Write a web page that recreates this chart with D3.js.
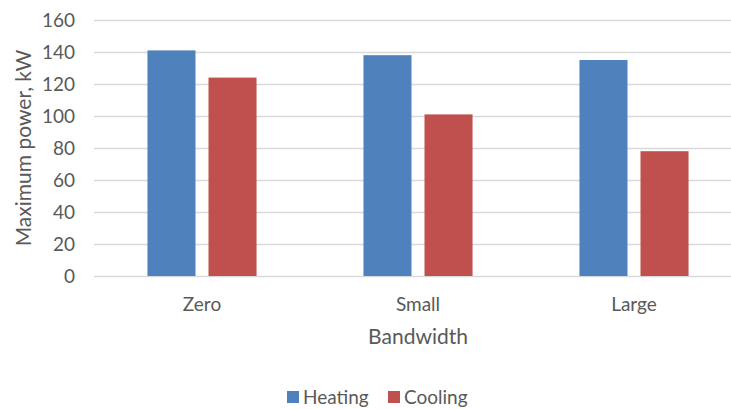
<!DOCTYPE html>
<html>
<head>
<meta charset="utf-8">
<script src="https://cdn.jsdelivr.net/npm/d3@7"></script>
<style>
  html, body { margin: 0; padding: 0; background: #fff; }
  svg { display: block; font-family: Lato, "Open Sans", sans-serif; }
</style>
</head>
<body>
<svg id="chart" width="731" height="409"></svg>
<script>
// Maximum power by bandwidth setting
const categories = ["Zero", "Small", "Large"];
const seriesNames = ["Heating", "Cooling"];
const heating = [141, 138, 135];
const cooling = [124, 101, 78];
const yTicks = [0, 20, 40, 60, 80, 100, 120, 140, 160];

const colors = { Heating: "#4F81BD", Cooling: "#C0504D" };
const textColor = "#595959";

const svg = d3.select("#chart");
const plot = { left: 94, right: 742, top: 20, bottom: 276 };

const y = d3.scaleLinear().domain([0, 160]).range([plot.bottom, plot.top]);

const x0 = d3.scaleBand()
  .domain(categories)
  .range([plot.left, plot.right])
  .paddingInner(0.495)
  .paddingOuter(0.2475);

const x1 = d3.scaleBand()
  .domain(seriesNames)
  .range([0, x0.bandwidth()])
  .paddingInner(0.213)
  .paddingOuter(0);

// Horizontal gridlines
svg.append("g")
  .selectAll("line")
  .data(yTicks)
  .join("line")
  .attr("x1", plot.left)
  .attr("x2", plot.right)
  .attr("y1", d => Math.round(y(d)) + 0.5)
  .attr("y2", d => Math.round(y(d)) + 0.5)
  .attr("stroke", "#D9D9D9")
  .attr("stroke-width", 1.3);

// Y axis tick labels
const yAxis = d3.axisLeft(y).tickValues(yTicks).tickSize(0).tickPadding(0);
const gy = svg.append("g")
  .attr("transform", `translate(75,0)`)
  .call(yAxis);
gy.select(".domain").remove();
gy.selectAll("text")
  .attr("fill", textColor)
  .attr("font-size", 19)
  .attr("dy", "0.36em")
  .attr("font-family", "Lato, sans-serif");

// Bars
const rows = categories.map((c, i) => ({ cat: c, values: [
  { key: "Heating", value: heating[i] },
  { key: "Cooling", value: cooling[i] }
]}));

svg.append("g")
  .selectAll("g")
  .data(rows)
  .join("g")
  .attr("transform", d => `translate(${x0(d.cat)},0)`)
  .selectAll("rect")
  .data(d => d.values)
  .join("rect")
  .attr("x", d => x1(d.key))
  .attr("y", d => y(d.value))
  .attr("width", x1.bandwidth())
  .attr("height", d => y(0) - y(d.value))
  .attr("fill", d => colors[d.key]);

// X axis category labels
const xAxis = d3.axisBottom(x0).tickSize(0).tickPadding(0);
const gx = svg.append("g")
  .attr("transform", `translate(0,${plot.bottom})`)
  .call(xAxis);
gx.select(".domain").remove();
gx.selectAll("text")
  .attr("fill", textColor)
  .attr("font-size", 19)
  .attr("dy", null)
  .attr("y", 35)
  .attr("font-family", "Lato, sans-serif");

// Axis titles
svg.append("text")
  .attr("x", x0("Small") + x0.bandwidth() / 2)
  .attr("y", 344)
  .attr("text-anchor", "middle")
  .attr("fill", textColor)
  .attr("font-size", 21)
  .text("Bandwidth");

svg.append("text")
  .attr("transform", `translate(31,${(plot.top + plot.bottom) / 2}) rotate(-90)`)
  .attr("text-anchor", "middle")
  .attr("fill", textColor)
  .attr("font-size", 21)
  .text("Maximum power, kW");

// Legend
const legendItems = [
  { key: "Heating", x: 287 },
  { key: "Cooling", x: 388 }
];
const legend = svg.append("g");
legend.selectAll("rect")
  .data(legendItems)
  .join("rect")
  .attr("x", d => d.x)
  .attr("y", 391)
  .attr("width", 12)
  .attr("height", 12)
  .attr("fill", d => colors[d.key]);
legend.selectAll("text")
  .data(legendItems)
  .join("text")
  .attr("x", d => d.x + 16)
  .attr("y", 404)
  .attr("fill", textColor)
  .attr("font-size", 19)
  .text(d => d.key);
</script>
</body>
</html>
